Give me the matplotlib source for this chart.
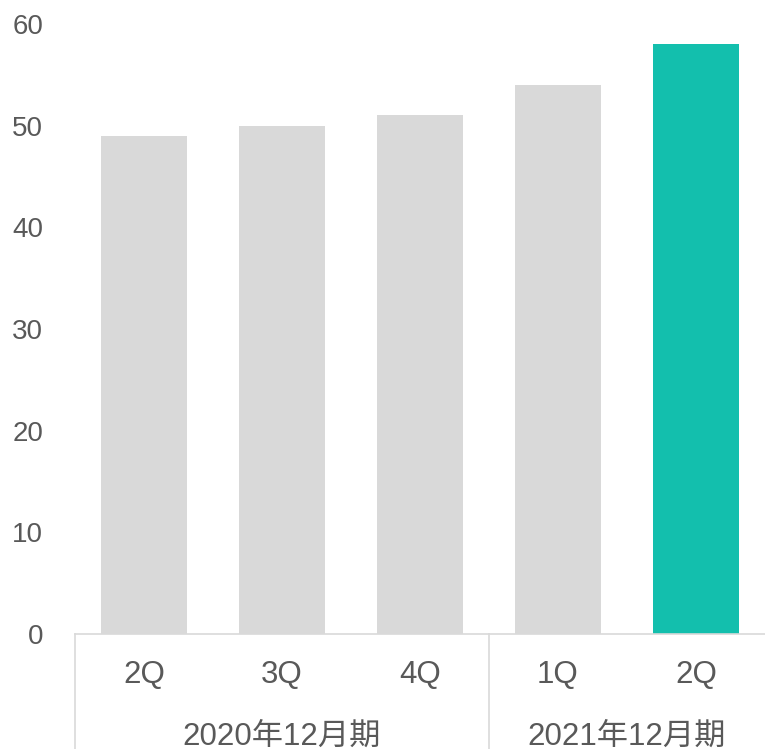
import matplotlib

matplotlib.use("Agg")
import matplotlib.pyplot as plt
from matplotlib import transforms
import numpy as np

plt.rcParams["font.family"] = ["Liberation Sans", "Noto Sans CJK JP", "DejaVu Sans"]

# 数据
quarters = ["2Q", "3Q", "4Q", "1Q", "2Q"]
values = [49, 50, 51, 54, 58]
groups = ["2020年12月期", "2021年12月期"]
group_sizes = [3, 2]
bar_colors = ["#d9d9d9", "#d9d9d9", "#d9d9d9", "#d9d9d9", "#13bfad"]

TEXT_COLOR = "#595959"
LINE_COLOR = "#d9d9d9"

fig = plt.figure(figsize=(7.65, 7.49), dpi=100)
ax = fig.add_axes([0.098, 0.1535, 0.902, 0.8145])

x = np.arange(len(values))
ax.bar(x, values, width=0.63, color=bar_colors)

ax.set_xlim(-0.5, len(values) - 0.5)
ax.set_ylim(0, 60)
ax.set_yticks(np.arange(0, 61, 10))
ax.set_xticks(x)
ax.set_xticklabels(quarters)
ax.tick_params(axis="y", length=0, pad=23, labelsize=20, labelcolor=TEXT_COLOR)
ax.tick_params(axis="x", length=0, pad=18.5, labelsize=22.5, labelcolor=TEXT_COLOR)

for side in ["left", "top", "right"]:
    ax.spines[side].set_visible(False)
ax.spines["bottom"].set_color(LINE_COLOR)
ax.spines["bottom"].set_linewidth(1.2)

# 分组标签与分隔线
trans = transforms.blended_transform_factory(ax.transData, ax.transAxes)
start = -0.5
for name, size in zip(groups, group_sizes):
    ax.plot([start, start], [0, -0.19], transform=trans, color=LINE_COLOR,
            linewidth=1.2, clip_on=False)
    center = start + size / 2
    ax.text(center, -0.168, name, transform=trans, ha="center", va="center",
            fontsize=22.5, color=TEXT_COLOR)
    start += size

fig.savefig("out.png", dpi=100)
